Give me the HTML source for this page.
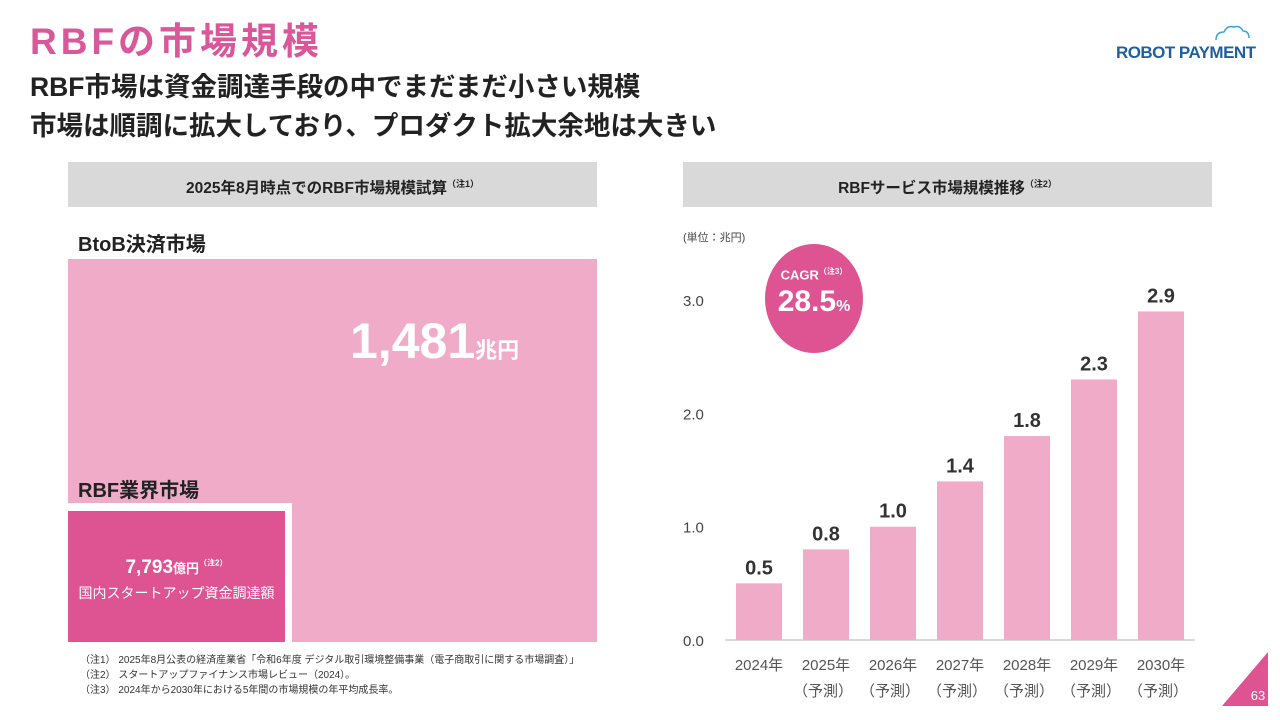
<!DOCTYPE html>
<html><head><meta charset="utf-8">
<style>
body{margin:0;width:1280px;height:720px;background:#fff;position:relative;overflow:hidden;font-family:"Liberation Sans","Noto Sans CJK JP",sans-serif;color:#222}
.a{position:absolute}
</style></head><body>
<div class="a" style="left:30px;top:18px;font-size:37px;font-weight:bold;color:#d9589a;letter-spacing:4px;line-height:48px">RBFの市場規模</div>
<div class="a" style="left:1116px;top:20px;width:142px;height:42px">
<svg width="142" height="42"><path d="M100 20 q0-8 8-8 q3-7 10-5 q6-2 9 4 q6 0 6 7" fill="none" stroke="#3ba3d8" stroke-width="1.5"/><text x="0" y="38" font-size="17" font-family="Liberation Sans" fill="#1f5f9e" font-weight="bold" textLength="140">ROBOT PAYMENT</text></svg></div>
<div class="a" style="left:30px;top:68px;font-size:26.5px;font-weight:bold;line-height:39px;color:#222">RBF市場は資金調達手段の中でまだまだ小さい規模<br>市場は順調に拡大しており、プロダクト拡大余地は大きい</div>
<div class="a" style="left:68px;top:162px;width:529px;height:45px;background:#d9d9d9;text-align:center;line-height:45px;font-size:15.5px;font-weight:bold">2025年8月時点でのRBF市場規模試算<sup style="font-size:9px">（注1）</sup></div>
<div class="a" style="left:683px;top:162px;width:529px;height:45px;background:#d9d9d9;text-align:center;line-height:45px;font-size:15.5px;font-weight:bold">RBFサービス市場規模推移<sup style="font-size:9px">（注2）</sup></div>
<div class="a" style="left:78px;top:228px;font-size:20px;font-weight:bold">BtoB決済市場</div>
<div class="a" style="left:68px;top:259px;width:529px;height:383px;background:#f0abc8"></div>
<div class="a" style="left:350px;top:312px;color:#fff;font-weight:bold;font-size:50px">1,481<span style="font-size:22px">兆円</span></div>
<div class="a" style="left:78px;top:474px;font-size:20px;font-weight:bold">RBF業界市場</div>
<div class="a" style="left:68px;top:503px;width:224px;height:139px;background:#fff"></div>
<div class="a" style="left:68px;top:511px;width:217px;height:131px;background:#de5391;color:#fff;text-align:center">
<div style="margin-top:46px;font-size:19px;font-weight:bold">7,793<span style="font-size:13px">億円</span><sup style="font-size:8px">（注2）</sup></div>
<div style="font-size:14px;margin-top:4px">国内スタートアップ資金調達額</div></div>
<div class="a" style="left:80px;top:653px;font-size:10px;line-height:15px;color:#333">（注1） 2025年8月公表の経済産業省「令和6年度 デジタル取引環境整備事業（電子商取引に関する市場調査）」<br>（注2） スタートアップファイナンス市場レビュー（2024）。<br>（注3） 2024年から2030年における5年間の市場規模の年平均成長率。</div>
<div class="a" style="left:683px;top:229px;font-size:11px;color:#444">(単位：兆円)</div>
<svg class="a" style="left:0;top:0" width="1280" height="720" id="chart"></svg>
<div class="a" style="left:765px;top:244px;width:98px;height:109px;border-radius:50%;background:#de5391;color:#fff;text-align:center">
<div style="margin-top:22px;font-size:13px;font-weight:bold">CAGR<sup style="font-size:8px">（注3）</sup></div>
<div style="font-size:30px;font-weight:bold;line-height:36px;margin-top:2px">28.5<span style="font-size:16px">%</span></div></div>
<svg class="a" style="left:1222px;top:652px" width="48" height="56"><polygon points="46,0 46,54 0,54" fill="#de5391"/><text x="36" y="48" fill="#fff" font-size="13" text-anchor="middle" font-family="Liberation Sans">63</text></svg>
<script>
const categories=["2024年","2025年","2026年","2027年","2028年","2029年","2030年"];
const subLabels=["","（予測）","（予測）","（予測）","（予測）","（予測）","（予測）"];
const values=[0.5,0.8,1.0,1.4,1.8,2.3,2.9];
const valueLabels=["0.5","0.8","1.0","1.4","1.8","2.3","2.9"];
const ticks=[0,1,2,3];
const tickLabels=["0.0","1.0","2.0","3.0"];
const svg=document.getElementById('chart');
const NS='http://www.w3.org/2000/svg';
const y=v=>640-v*113.3;
const x=i=>759+i*67;
function mk(t,a,txt){const e=document.createElementNS(NS,t);for(const k in a)e.setAttribute(k,a[k]);if(txt!=null)e.textContent=txt;svg.appendChild(e);return e;}
ticks.forEach((t,i)=>{const e=mk('text',{x:683,y:y(t)+6,'font-size':15,fill:'#444','font-family':'Liberation Sans'},tickLabels[i]);

});
const ax=mk('line',{x1:725,x2:1195,y1:640,y2:640,stroke:'#d9d9d9','stroke-width':2});


values.forEach((v,i)=>{
const r=mk('rect',{x:x(i)-23,y:y(v),width:46,height:640-y(v),fill:'#f0abc8'});


const l=mk('text',{x:x(i),y:y(v)-9,'text-anchor':'middle','font-size':20,'font-weight':'bold',fill:'#333','font-family':'Liberation Sans'},valueLabels[i]);


const c=mk('text',{x:x(i),y:670,'text-anchor':'middle','font-size':15,fill:'#555','font-family':'Liberation Sans, Noto Sans CJK JP'},categories[i]);


if(subLabels[i]){const s=mk('text',{x:x(i)-3,y:696,'text-anchor':'middle','font-size':15,fill:'#555','font-family':'Noto Sans CJK JP'},subLabels[i]);

}
});
</script>
</body></html>
